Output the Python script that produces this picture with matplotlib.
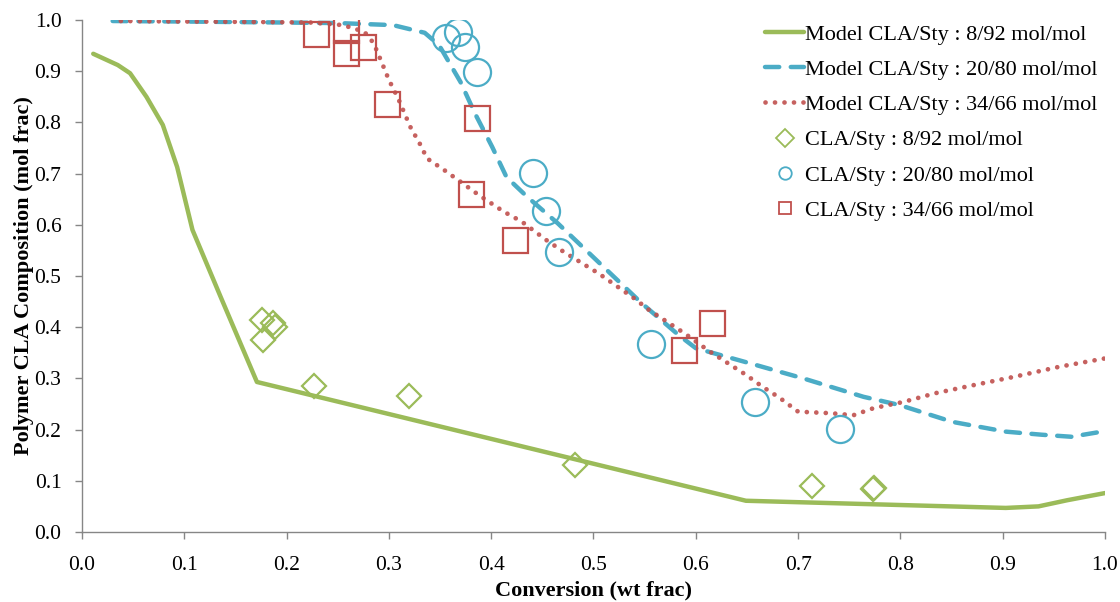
import matplotlib.pyplot as plt
import matplotlib as mpl

# model curves
m8_x = [0.011, 0.035, 0.047, 0.063, 0.079, 0.093, 0.108, 0.136, 0.171, 0.649, 0.903, 0.935, 0.963, 1.0]
m8_y = [0.934, 0.912, 0.896, 0.850, 0.795, 0.713, 0.590, 0.457, 0.293, 0.061, 0.047, 0.050, 0.062, 0.076]

m20_x = [0.03, 0.10, 0.20, 0.25, 0.304, 0.335, 0.349, 0.370, 0.384, 0.401, 0.415, 0.435, 0.465,
         0.547, 0.583, 0.600, 0.652, 0.705, 0.764, 0.799, 0.851, 0.903, 0.938, 0.967, 1.0]
m20_y = [0.998, 0.997, 0.995, 0.994, 0.990, 0.975, 0.951, 0.879, 0.818, 0.752, 0.693, 0.655, 0.603,
         0.447, 0.385, 0.359, 0.330, 0.300, 0.264, 0.248, 0.215, 0.196, 0.190, 0.186, 0.197]

m34_x = [0.038, 0.10, 0.18, 0.224, 0.255, 0.276, 0.285, 0.292, 0.300, 0.309, 0.321, 0.332, 0.337,
         0.354, 0.370, 0.388, 0.412, 0.430, 0.454, 0.471, 0.505, 0.540, 0.554, 0.589, 0.614,
         0.649, 0.665, 0.682, 0.700, 0.732, 0.754, 0.774, 0.803, 0.834, 0.872, 0.911, 0.956, 1.0]
m34_y = [0.998, 0.997, 0.996, 0.995, 0.990, 0.977, 0.955, 0.922, 0.883, 0.847, 0.791, 0.752, 0.730,
         0.707, 0.684, 0.658, 0.626, 0.606, 0.570, 0.547, 0.505, 0.456, 0.434, 0.388, 0.352,
         0.307, 0.284, 0.262, 0.235, 0.232, 0.228, 0.242, 0.254, 0.271, 0.287, 0.303, 0.323, 0.339]

# experimental points
e8_x = [0.176, 0.187, 0.189, 0.177, 0.227, 0.320, 0.482, 0.714, 0.773, 0.774]
e8_y = [0.414, 0.408, 0.400, 0.375, 0.285, 0.266, 0.131, 0.090, 0.083, 0.085]

e20_x = [0.356, 0.368, 0.374, 0.386, 0.441, 0.454, 0.466, 0.556, 0.658, 0.741]
e20_y = [0.965, 0.977, 0.948, 0.899, 0.701, 0.627, 0.547, 0.367, 0.253, 0.201]

e34_x = [0.229, 0.258, 0.258, 0.275, 0.298, 0.386, 0.380, 0.423, 0.588, 0.616]
e34_y = [0.973, 0.980, 0.936, 0.948, 0.836, 0.808, 0.660, 0.570, 0.355, 0.408]

green = '#9BBB59'
blue = '#4BACC6'
red = '#C0504D'
gray = '#868686'

plt.rcParams['font.family'] = ['Liberation Serif', 'DejaVu Serif']

fig = plt.figure(figsize=(11.2, 6.02), dpi=100)
ax = fig.add_axes([0.0732, 0.1163, 0.9134, 0.8505])

ax.plot(m8_x, m8_y, color=green, lw=3.2, solid_capstyle='round', solid_joinstyle='round',
        label='Model CLA/Sty : 8/92 mol/mol')
ax.plot(m20_x, m20_y, color=blue, lw=3.2, dashes=(3.2, 2.6), dash_capstyle='round',
        label='Model CLA/Sty : 20/80 mol/mol')
ax.plot(m34_x, m34_y, color=red, lw=3.4, linestyle=(0, (0.01, 2.0)), dash_capstyle='round',
        alpha=0.9, label='Model CLA/Sty : 34/66 mol/mol')

ax.plot(e8_x, e8_y, ls='none', marker='D', ms=12, mfc='none', mec=green, mew=1.6,
        label='CLA/Sty : 8/92 mol/mol')
ax.plot(e20_x, e20_y, ls='none', marker='o', ms=19.5, mfc='none', mec=blue, mew=1.6,
        label='CLA/Sty : 20/80 mol/mol')
ax.plot(e34_x, e34_y, ls='none', marker='s', ms=18, mfc='none', mec=red, mew=1.6,
        label='CLA/Sty : 34/66 mol/mol')

ax.set_xlim(0, 1.0)
ax.set_ylim(0, 1.0)
ax.set_xticks([i / 10 for i in range(11)])
ax.set_yticks([i / 10 for i in range(11)])
ax.xaxis.set_major_formatter(mpl.ticker.FormatStrFormatter('%.1f'))
ax.yaxis.set_major_formatter(mpl.ticker.FormatStrFormatter('%.1f'))

for s in ['top', 'right']:
    ax.spines[s].set_visible(False)
for s in ['left', 'bottom']:
    ax.spines[s].set_color(gray)
    ax.spines[s].set_linewidth(1.0)
ax.tick_params(direction='out', length=5, width=1, color=gray, labelsize=15.5)
ax.tick_params(axis='x', pad=12)
ax.tick_params(axis='y', pad=9.8)

ax.set_xlabel('Conversion (wt frac)', fontsize=16, fontweight='bold', labelpad=4.5)
ax.set_ylabel('Polymer CLA Composition (mol frac)', fontsize=16, fontweight='bold', labelpad=0.5)

leg = ax.legend(loc='upper right', bbox_to_anchor=(1.006, 1.018), frameon=False, fontsize=16,
                handlelength=1.75, handletextpad=0.05, labelspacing=0.66, borderaxespad=0.2)
for h in leg.legend_handles[3:]:
    h.set_markersize(9)
    h.set_markeredgewidth(1.3)

fig.savefig('out.png', dpi=100)
